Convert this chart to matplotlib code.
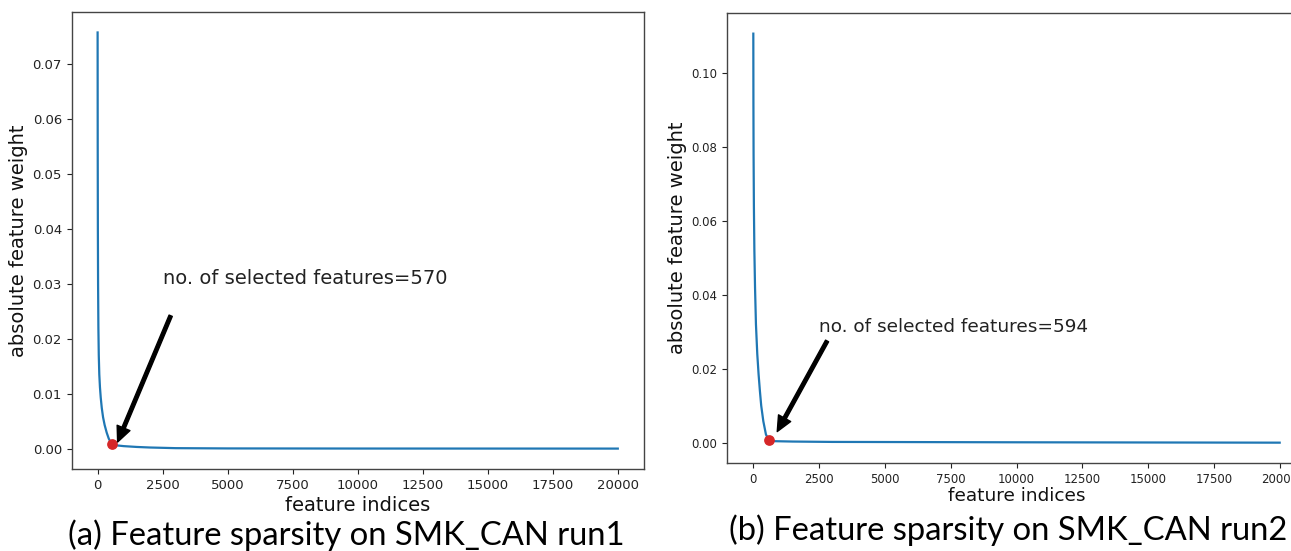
import matplotlib
matplotlib.use("Agg")
import matplotlib.pyplot as plt

# ---- data ----
run1_idx = [0, 4, 10, 18, 30, 45, 65, 90, 120, 160, 210, 270, 350, 430, 500, 570, 700, 1000, 1500, 2000, 3000, 5000, 10000, 20000]
run1_val = [0.0758, 0.055, 0.040, 0.030, 0.022, 0.017, 0.0135, 0.0112, 0.0093, 0.0074, 0.0057, 0.0043, 0.0029,
            0.0018, 0.0012, 0.0008, 0.0006, 0.00045, 0.0003, 0.0002, 0.00008, 0.00003, 0.00001, 0.0]
run1_sel = 570
run1_sel_val = 0.0008

run2_idx = [0, 4, 10, 22, 40, 65, 100, 150, 200, 250, 300, 380, 480, 594, 800, 1500, 3000, 10000, 20000]
run2_val = [0.1106, 0.092, 0.078, 0.064, 0.052, 0.042, 0.032, 0.024, 0.0185, 0.014, 0.010, 0.0058, 0.0022, 0.0007,
            0.0004, 0.0003, 0.0002, 0.0001, 0.0]
run2_sel = 594
run2_sel_val = 0.0007

xticks = [0, 2500, 5000, 7500, 10000, 12500, 15000, 17500, 20000]
yticks1 = [0.00, 0.01, 0.02, 0.03, 0.04, 0.05, 0.06, 0.07]
yticks2 = [0.00, 0.02, 0.04, 0.06, 0.08, 0.10]

W, H = 1291, 551
fig = plt.figure(figsize=(W / 100, H / 100), dpi=100)

def fr(l, t, r, b):
    return [l / W, (H - b) / H, (r - l) / W, (b - t) / H]

ax1 = fig.add_axes(fr(71.6, 11.6, 643.8, 469.4))
ax2 = fig.add_axes(fr(727, 13.3, 1306, 463))

line_c = '#1f77b4'
spine_c = '#444444'

def style(ax, tick_fs):
    for s in ax.spines.values():
        s.set_color(spine_c)
        s.set_linewidth(1.0)
    ax.tick_params(labelsize=tick_fs, colors='#222222')

# panel (a)
ax1.plot(run1_idx, run1_val, color=line_c, lw=1.6)
ax1.scatter([run1_sel], [run1_sel_val], s=45, color='#d62728', zorder=3)
ax1.set_xticks(xticks)
ax1.set_yticks(yticks1)
ax1.set_yticklabels([f"{v:.2f}" for v in yticks1])
ax1.set_xlim(-1000, 21000)
ax1.set_ylim(-0.00379, 0.0796)
style(ax1, 9.5)
ax1.set_xlabel("feature indices", fontsize=14, color='#111111', labelpad=3)
ax1.set_ylabel("absolute feature weight", fontsize=14, color='#111111')
ax1.yaxis.set_label_coords(-0.077, 0.5)
ax1.text(2500, 0.03, "no. of selected features=570", fontsize=14, color='#222222')
ax1.annotate("", xy=(770, 0.0012), xytext=(2810, 0.0242),
             arrowprops=dict(facecolor='black', edgecolor='black', width=2.5, headwidth=10, headlength=11, shrink=0))

# panel (b)
ax2.plot(run2_idx, run2_val, color=line_c, lw=1.6)
ax2.scatter([run2_sel], [run2_sel_val], s=45, color='#d62728', zorder=3)
ax2.set_xticks(xticks)
ax2.set_yticks(yticks2)
ax2.set_yticklabels([f"{v:.2f}" for v in yticks2])
ax2.set_xlim(-1000, 21000)
ax2.set_ylim(-0.0055, 0.1161)
style(ax2, 8.5)
ax2.set_xlabel("feature indices", fontsize=13.3, color='#111111', labelpad=1)
ax2.set_ylabel("absolute feature weight", fontsize=14, color='#111111')
ax2.yaxis.set_label_coords(-0.069, 0.5)
ax2.text(2500, 0.03, "no. of selected features=594", fontsize=13.3, color='#222222')
ax2.annotate("", xy=(909, 0.003), xytext=(2803, 0.0275),
             arrowprops=dict(facecolor='black', edgecolor='black', width=2.5, headwidth=10, headlength=11, shrink=0))

# captions
fig.text(346 / W, 1 - 535 / H, "(a) Feature sparsity on SMK_CAN run1", family='Lato', fontsize=23.6,
         ha='center', va='center', color='black')
fig.text(1008 / W, 1 - 530 / H, "(b) Feature sparsity on SMK_CAN run2", family='Lato', fontsize=23.6,
         ha='center', va='center', color='black')

fig.savefig("out.png", dpi=100)
